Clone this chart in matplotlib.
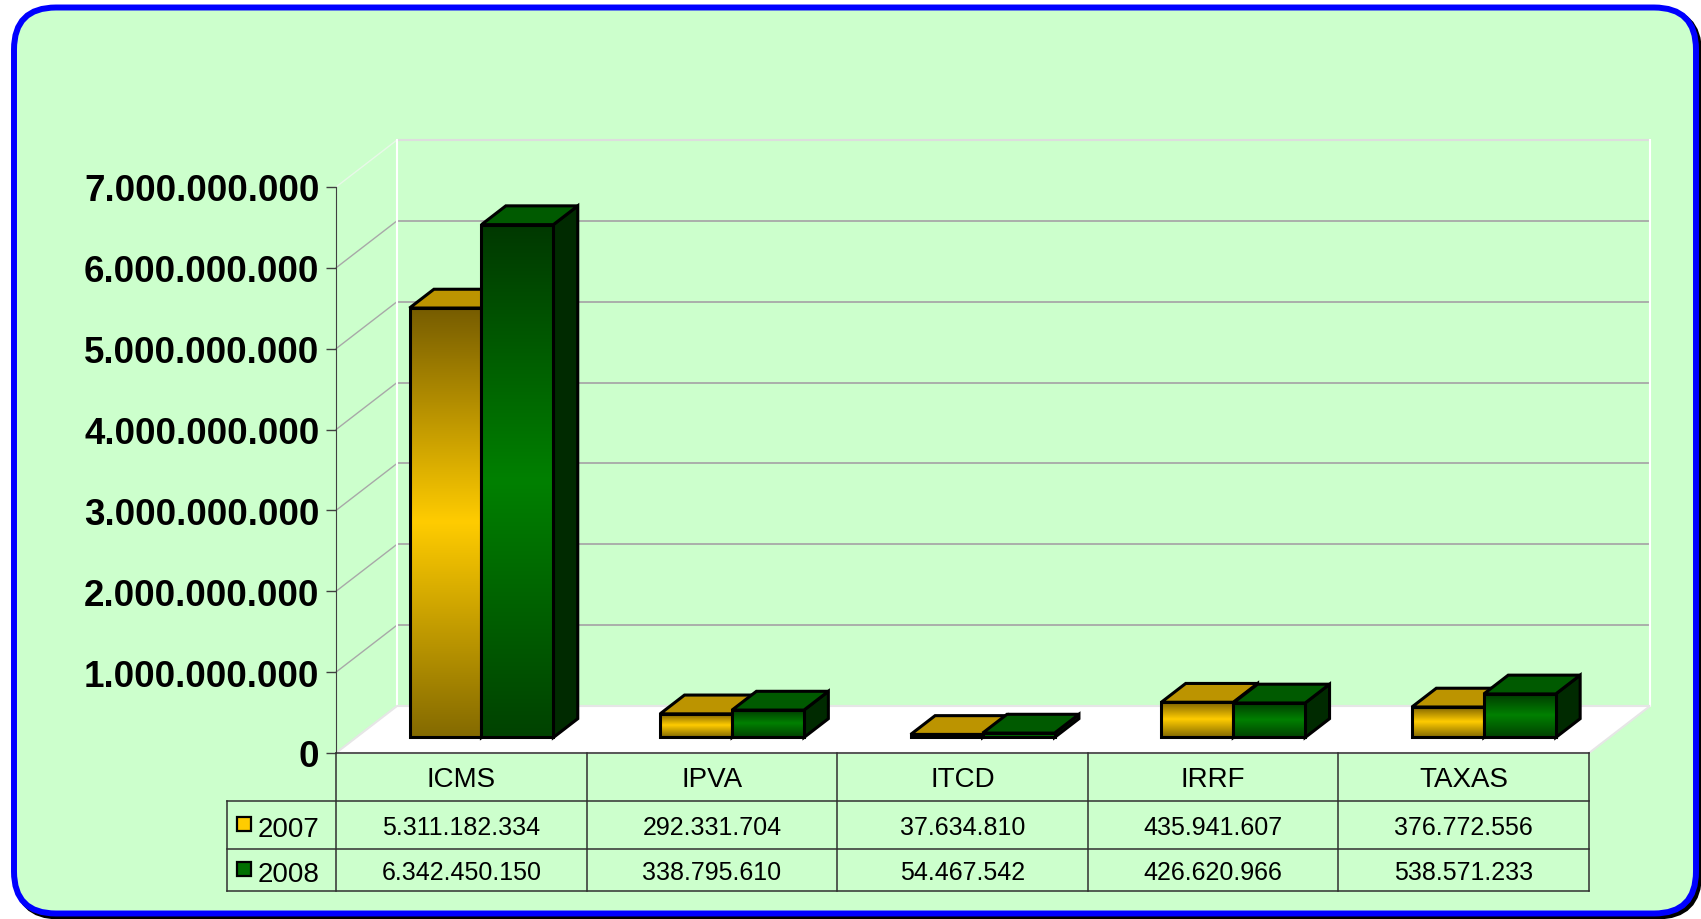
import numpy as np
import matplotlib
matplotlib.use("Agg")
import matplotlib.pyplot as plt
from matplotlib.patches import Polygon, FancyBboxPatch
from matplotlib.colors import LinearSegmentedColormap

# Data.
categories = ['ICMS', 'IPVA', 'ITCD', 'IRRF', 'TAXAS']
years = ['2007', '2008']
v2007 = [5311182334, 292331704, 37634810, 435941607, 376772556]
v2008 = [6342450150, 338795610, 54467542, 426620966, 538571233]
yticks = np.arange(0, 8e9, 1e9)


def fmt(v):
    return f"{int(v):,}".replace(",", ".")


W, H = 1701, 920
fig = plt.figure(figsize=(W / 100, H / 100), dpi=100)
fig.patch.set_facecolor('white')

# Rounded panel with blue border and a dark shadow.
bg = fig.add_axes([0, 0, 1, 1], zorder=0)
bg.set_xlim(0, W)
bg.set_ylim(H, 0)
bg.axis('off')
bg.add_patch(FancyBboxPatch((17, 11.5), 1682, 906,
                            boxstyle='round,pad=0,rounding_size=42',
                            fc='black', ec='black', lw=4.3))
bg.add_patch(FancyBboxPatch((14, 8.5), 1682, 906,
                            boxstyle='round,pad=0,rounding_size=42',
                            fc='#CCFFCC', ec='#0000FF', lw=4.3))

# Plot area (front plane of the 3D box).
ax = fig.add_axes([336 / W, 166 / H, 1253 / W, 566 / H], zorder=1)
ax.patch.set_visible(False)
px = 5 / 1253          # one pixel in x data units
py = 7e9 / 566         # one pixel in y data units
DX, DY = 61 * px, 47 * py

# Back wall and gridlines.
for t in yticks[1:-1]:
    ax.plot([DX, 5 + DX], [t + DY] * 2, color='#A8A8A8', lw=1.3, zorder=1, clip_on=False)
    ax.plot([0, DX], [t, t + DY], color='#A8A8A8', lw=1.0, zorder=1, clip_on=False)
ax.plot([DX, 5 + DX], [7e9 + DY] * 2, color='#DDDDDD', lw=1.5, zorder=1, clip_on=False)
ax.plot([0, DX], [7e9, 7e9 + DY], color='#E8F8E8', lw=1.0, zorder=1, clip_on=False)
ax.plot([DX, DX], [DY, 7e9 + DY], color='white', lw=1.5, zorder=1, clip_on=False)
ax.plot([5 + DX, 5 + DX], [DY, 7e9 + DY], color='white', lw=1.5, zorder=1, clip_on=False)

# Floor.
ax.add_patch(Polygon([(0, 0), (5, 0), (5 + DX, DY), (DX, DY)], closed=True,
                     fc='white', ec='#E6E6E6', lw=1.5, zorder=2, clip_on=False))

# Bars.
F0, BD = 0.33, 0.40
bw = 0.287
front_cm = [
    LinearSegmentedColormap.from_list('gold', [(0, '#765C00'), (0.5, '#FFCC00'), (1, '#846A00')]),
    LinearSegmentedColormap.from_list('green', [(0, '#003800'), (0.5, '#008000'), (1, '#004200')]),
]
top_col = ['#BC9400', '#005A00']
side_col = ['#6B5400', '#002A00']
grad = np.linspace(0, 1, 256).reshape(-1, 1)
elw = 2.2

z = 3
for i in range(len(categories)):
    for s, vals in enumerate([v2007, v2008]):
        x0 = i + 0.5 - bw + s * bw + F0 * DX
        x1 = x0 + bw
        base = F0 * DY
        top = base + vals[i]
        bdx, bdy = BD * DX, BD * DY
        ax.add_patch(Polygon([(x1, base), (x1, top), (x1 + bdx, top + bdy), (x1 + bdx, base + bdy)],
                             closed=True, fc=side_col[s], ec='black', lw=elw,
                             joinstyle='miter', zorder=z, clip_on=False))
        ax.add_patch(Polygon([(x0, top), (x1, top), (x1 + bdx, top + bdy), (x0 + bdx, top + bdy)],
                             closed=True, fc=top_col[s], ec='black', lw=elw,
                             joinstyle='miter', zorder=z, clip_on=False))
        ax.imshow(grad, cmap=front_cm[s], extent=[x0, x1, base, top], aspect='auto',
                  origin='upper', zorder=z + 0.1, interpolation='bilinear')
        ax.add_patch(Polygon([(x0, base), (x1, base), (x1, top), (x0, top)],
                             closed=True, fill=False, ec='black', lw=elw,
                             joinstyle='miter', zorder=z + 0.2, clip_on=False))
        z += 1

# Axis styling.
ax.set_xlim(0, 5)
ax.set_ylim(0, 7e9)
ax.set_xticks([])
ax.set_yticks(yticks)
ax.set_yticklabels([fmt(t) for t in yticks], fontweight='bold',
                   family=['Liberation Sans', 'DejaVu Sans'])
ax.tick_params(axis='y', length=7, width=1, color='#404040', pad=5, labelsize=26.5)
for side in ['top', 'right', 'bottom']:
    ax.spines[side].set_visible(False)
ax.spines['left'].set_color('#404040')

# Data table under the chart.
tfont = ['Liberation Sans', 'DejaVu Sans']
lc = '#303030'
yh, yr1, yr2 = -48 * py, -96 * py, -138 * py
lx = -109 * px
kw = dict(color=lc, lw=1.1, clip_on=False, zorder=10)
ax.plot([0, 5], [0, 0], **kw)
for yy in [yh, yr1, yr2]:
    ax.plot([lx, 5], [yy, yy], **kw)
ax.plot([lx, lx], [yh, yr2], **kw)
for xx in range(len(categories) + 1):
    ax.plot([xx, xx], [0, yr2], **kw)

fs = 18
drop = 9 * py   # baseline below the row centre
tkw = dict(ha='center', va='baseline', family=tfont, color='black', clip_on=False)
for i, c in enumerate(categories):
    ax.text(i + 0.5, yh / 2 - drop, c, fontsize=20, **tkw)
    ax.text(i + 0.5, (yh + yr1) / 2 - drop, fmt(v2007[i]), fontsize=fs, **tkw)
    ax.text(i + 0.5, (yr1 + yr2) / 2 - drop, fmt(v2008[i]), fontsize=fs, **tkw)

leg_col = ['#FFCC00', '#007000']
for s, (yr, yc) in enumerate(zip(years, [(yh + yr1) / 2, (yr1 + yr2) / 2])):
    ax.plot([lx + 17 * px], [yc + 1 * py], marker='s', ms=9.5, mfc=leg_col[s], mec='black',
            mew=1.6, clip_on=False, zorder=11)
    ax.text(lx + 31 * px, yc - drop - 2 * py, yr, ha='left', va='baseline', fontsize=20,
            family=tfont, color='black', clip_on=False)

fig.savefig('out.png', dpi=100, facecolor=fig.get_facecolor())
